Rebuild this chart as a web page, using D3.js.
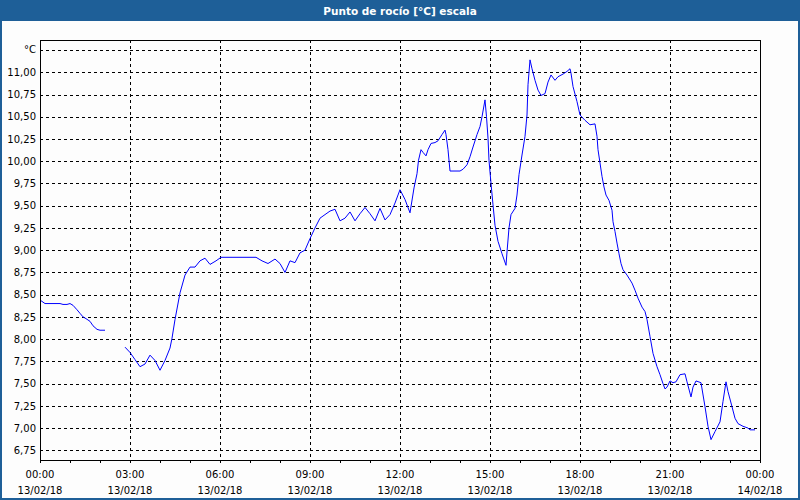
<!DOCTYPE html>
<html>
<head>
<meta charset="utf-8">
<script src="https://cdn.jsdelivr.net/npm/d3@7"></script>
<style>
  html, body { margin: 0; padding: 0; background: #ffffff; }
  svg { display: block; }
  text { font-family: "DejaVu Sans", Verdana, sans-serif; }
</style>
</head>
<body>
<svg id="chart" width="800" height="500"></svg>
<script>
// ---------- data ----------
const title = "Punto de rocío [°C] escala";
const unitLabel = "°C";
// minutes after 00:00 on 13/02/18 (null value = gap in the record)
const times = [
  0, 10, 20, 30, 40, 46, 54, 60, 66, 74, 80, 86, 92, 100, 106, 114, 120, 130,
  150,
  170, 180, 190, 200, 210, 220, 230, 240, 250, 260, 264, 270, 280, 290, 300, 310, 320, 330, 340, 352, 362,
  432, 444, 456, 470, 480, 490, 500, 510, 520, 530, 540, 550, 560, 570, 580, 590, 600, 610, 620, 630,
  640, 650, 660, 670, 680, 690, 700, 710, 720, 730, 740, 748, 754, 757, 762, 766, 772, 776, 782, 790,
  796, 804, 810, 812, 816, 820, 840, 846, 854, 860, 866, 874, 880, 884, 890, 893, 896, 898, 902, 906,
  910, 916, 924, 932, 934, 938, 942, 950, 954, 958, 964, 970, 974, 976, 980, 984, 990, 996, 1002, 1010,
  1016, 1022, 1030, 1036, 1046, 1054, 1060, 1062, 1066, 1074, 1080, 1090, 1100, 1110, 1114, 1116, 1120,
  1124, 1128, 1132, 1138, 1144, 1146, 1150, 1154, 1158, 1162, 1166, 1174, 1184, 1190, 1196, 1204, 1210,
  1214, 1220, 1226, 1234, 1240, 1246, 1250, 1254, 1260, 1266, 1272, 1280, 1290, 1294, 1302, 1306, 1312,
  1322, 1330, 1336, 1342, 1350, 1360, 1366, 1372, 1376, 1384, 1390, 1396, 1406, 1416, 1420, 1430
];
const values = [
  8.44, 8.40, 8.40, 8.40, 8.40, 8.39, 8.39, 8.40, 8.38, 8.33, 8.29, 8.25, 8.23, 8.20, 8.15, 8.11, 8.10, 8.10,
  null,
  7.91, 7.85, 7.77, 7.69, 7.72, 7.82, 7.76, 7.65, 7.76, 7.90, 8.01, 8.22, 8.52, 8.72, 8.81, 8.81, 8.88, 8.91, 8.84, 8.88, 8.92,
  8.92, 8.88, 8.85, 8.90, 8.85, 8.75, 8.88, 8.86, 8.97, 9.00, 9.13, 9.25, 9.36, 9.40, 9.44, 9.46, 9.33, 9.36, 9.43, 9.33,
  9.41, 9.48, 9.41, 9.33, 9.47, 9.34, 9.40, 9.53, 9.68, 9.57, 9.42, 9.70, 9.86, 10.01, 10.13, 10.10, 10.06, 10.13, 10.20, 10.21,
  10.23, 10.30, 10.35, 10.30, 10.13, 9.89, 9.89, 9.91, 9.96, 10.05, 10.16, 10.30, 10.39, 10.50, 10.69, 10.50, 10.26, 10.01, 9.75, 9.51,
  9.28, 9.10, 8.96, 8.83, 8.98, 9.25, 9.40, 9.47, 9.62, 9.85, 10.07, 10.28, 10.52, 10.86, 11.14, 11.04, 10.91, 10.80, 10.74, 10.76,
  10.89, 10.97, 10.91, 10.95, 10.98, 11.01, 11.04, 10.99, 10.84, 10.67, 10.52, 10.46, 10.41, 10.42, 10.28, 10.13, 9.98,
  9.83, 9.71, 9.62, 9.56, 9.45, 9.32, 9.21, 9.08, 8.96, 8.85, 8.78, 8.72, 8.63, 8.55, 8.46, 8.36, 8.31,
  8.22, 8.03, 7.84, 7.69, 7.60, 7.50, 7.44, 7.46, 7.53, 7.51, 7.52, 7.60, 7.61, 7.52, 7.35, 7.46, 7.53,
  7.51, 7.24, 7.02, 6.87, 6.96, 7.07, 7.30, 7.52, 7.41, 7.24, 7.11, 7.05, 7.02, 7.00, 6.98, 6.98
];
const yTicks = [6.75, 7.00, 7.25, 7.50, 7.75, 8.00, 8.25, 8.50, 8.75, 9.00, 9.25, 9.50, 9.75, 10.00, 10.25, 10.50, 10.75, 11.00];
const unitTick = 11.25;
const xTickHours = [0, 3, 6, 9, 12, 15, 18, 21, 24];
const xTickTimes = ["00:00", "03:00", "06:00", "09:00", "12:00", "15:00", "18:00", "21:00", "00:00"];
const xTickDates = ["13/02/18", "13/02/18", "13/02/18", "13/02/18", "13/02/18", "13/02/18", "13/02/18", "13/02/18", "14/02/18"];
const minorHours = d3.range(0, 25);

// ---------- layout ----------
const W = 800, H = 500;
const plot = { left: 40, top: 40, right: 760, bottom: 460 };
const blue = "#1e5f98";

const svg = d3.select("#chart");

// window frame + title bar
svg.append("rect").attr("x", 0).attr("y", 0).attr("width", W).attr("height", H).attr("fill", blue);
svg.append("rect").attr("x", 2).attr("y", 21).attr("width", W - 4).attr("height", H - 23).attr("fill", "#fdfdfd");
svg.append("text")
  .attr("x", W / 2).attr("y", 14.5)
  .attr("text-anchor", "middle")
  .attr("fill", "#ffffff")
  .attr("font-weight", "bold")
  .attr("font-size", "10.5px")
  .text(title);

// scales
const x = d3.scaleLinear().domain([0, 24 * 60]).range([plot.left, plot.right]);
const y = d3.scaleLinear().domain([11, 6.75]).range([72.3, 450.3]);

// grid
const gridH = svg.append("g");
gridH.selectAll("line").data(yTicks.concat([unitTick])).join("line")
  .attr("x1", plot.left).attr("x2", plot.right)
  .attr("y1", d => Math.round(y(d)) + 0.5).attr("y2", d => Math.round(y(d)) + 0.5)
  .attr("stroke", "#000").attr("stroke-width", 1).attr("stroke-dasharray", "3,3");
const gridV = svg.append("g");
gridV.selectAll("line").data(xTickHours.slice(1, -1)).join("line")
  .attr("x1", d => Math.round(x(d * 60)) + 0.5).attr("x2", d => Math.round(x(d * 60)) + 0.5)
  .attr("y1", plot.top).attr("y2", plot.bottom)
  .attr("stroke", "#000").attr("stroke-width", 1).attr("stroke-dasharray", "3,3");

// y labels
const yAxis = d3.axisLeft(y).tickValues(yTicks).tickSize(0).tickPadding(4)
  .tickFormat(d => d3.format(".2f")(d).replace(".", ","));
const gy = svg.append("g").attr("transform", `translate(${plot.left},0)`).call(yAxis);
gy.select(".domain").remove();
gy.selectAll("text").attr("font-size", "10px").attr("fill", "#000").attr("font-family", "DejaVu Sans, sans-serif");
svg.append("text").attr("x", plot.left - 4).attr("y", y(unitTick)).attr("dy", "0.32em")
  .attr("text-anchor", "end").attr("font-size", "10px").attr("fill", "#000").text(unitLabel);

// x axis: minor ticks each hour
const xAxis = d3.axisBottom(x).tickValues(minorHours.map(h => h * 60)).tickSize(3).tickFormat("");
const gx = svg.append("g").attr("transform", `translate(0,${plot.bottom})`).call(xAxis);
gx.select(".domain").remove();
gx.selectAll("line").attr("stroke", "#000");
// x labels
const xl = svg.append("g");
xl.selectAll("text.t").data(xTickHours).join("text").attr("class", "t")
  .attr("x", d => x(d * 60)).attr("y", 478)
  .attr("text-anchor", "middle").attr("font-size", "10px").attr("fill", "#000")
  .text((d, i) => xTickTimes[i]);
xl.selectAll("text.d").data(xTickHours).join("text").attr("class", "d")
  .attr("x", d => x(d * 60)).attr("y", 494)
  .attr("text-anchor", "middle").attr("font-size", "10px").attr("fill", "#000")
  .text((d, i) => xTickDates[i]);

// data line
const pts = times.map((t, i) => ({ t, v: values[i] }));
const line = d3.line().defined(d => d.v !== null).x(d => x(d.t)).y(d => y(d.v));
svg.append("path").datum(pts).attr("d", line)
  .attr("fill", "none").attr("stroke", "#0000ff").attr("stroke-width", 1);

// frame
svg.append("rect").attr("x", plot.left + 0.5).attr("y", plot.top + 0.5)
  .attr("width", plot.right - plot.left).attr("height", plot.bottom - plot.top)
  .attr("fill", "none").attr("stroke", "#000").attr("stroke-width", 1);
</script>
</body>
</html>
